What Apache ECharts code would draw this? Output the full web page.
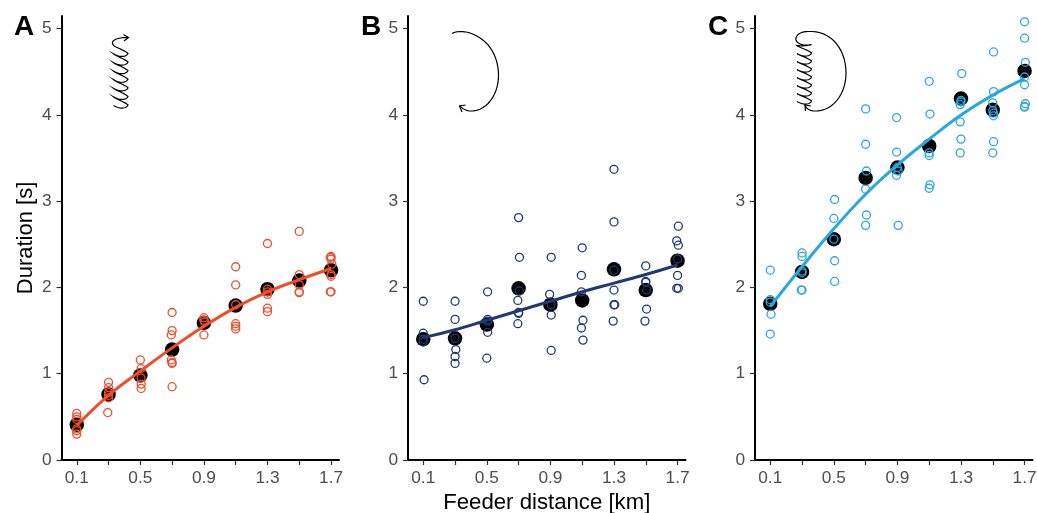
<!DOCTYPE html>
<html><head><meta charset="utf-8">
<style>html,body{margin:0;padding:0;background:#fff}#c{width:1037px;height:513px}</style>
<script src="https://cdn.jsdelivr.net/npm/echarts@6/dist/echarts.min.js"></script>
</head><body><div id="c"></div>
<script>
const xTicks = [0.1,0.3,0.5,0.7,0.9,1.1,1.3,1.5,1.7];
const xLabels = [0.1,0.5,0.9,1.3,1.7];
const yTicks = [0,1,2,3,4,5];
const letters = ['A','B','C'];
const colors = ['#F04E2A','#1F3A70','#2AA7E0'];

const meanA = [0.41,0.76,0.98,1.28,1.59,1.79,1.98,2.08,2.20];
const meanB = [1.40,1.41,1.57,1.99,1.80,1.85,2.21,1.97,2.31];
const meanC = [1.81,2.18,2.56,3.27,3.39,3.64,4.19,4.06,4.51];

const fitA = [0.40,0.75,1.03,1.30,1.55,1.77,1.95,2.09,2.22];
const fitB = [1.42,1.51,1.62,1.73,1.84,1.95,2.05,2.15,2.26];
const fitC = [1.78,2.24,2.68,3.08,3.42,3.72,4.00,4.23,4.42];

const rawA = [
 [0.1,0.54],[0.1,0.50],[0.1,0.47],[0.1,0.36],[0.1,0.34],[0.1,0.30],
 [0.3,0.90],[0.3,0.84],[0.3,0.78],[0.3,0.75],[0.3,0.72],[0.295,0.55],
 [0.5,1.16],[0.505,1.06],[0.505,0.95],[0.505,0.88],[0.505,0.83],
 [0.7,1.71],[0.7,1.50],[0.695,1.45],[0.695,1.16],[0.7,1.13],[0.7,1.12],[0.7,0.85],
 [0.9,1.65],[0.9,1.62],[0.905,1.60],[0.9,1.45],
 [1.1,2.24],[1.1,2.03],[1.1,1.80],[1.1,1.58],[1.1,1.55],[1.1,1.52],
 [1.3,2.51],[1.3,1.98],[1.3,1.95],[1.3,1.92],[1.3,1.76],[1.3,1.72],
 [1.5,2.65],[1.5,2.15],[1.5,2.03],[1.5,1.95],[1.5,1.94],
 [1.7,2.36],[1.695,2.35],[1.7,2.33],[1.705,2.27],[1.7,2.15],[1.7,2.13],[1.7,1.95],[1.695,1.95]
];
const rawB = [
 [0.1,1.84],[0.1,1.47],[0.1,1.40],[0.1,1.37],[0.105,0.93],
 [0.3,1.84],[0.3,1.63],[0.3,1.41],[0.305,1.28],[0.3,1.20],[0.3,1.12],
 [0.505,1.95],[0.505,1.63],[0.505,1.61],[0.505,1.48],[0.5,1.18],
 [0.7,2.81],[0.705,2.35],[0.705,1.96],[0.695,1.85],[0.7,1.71],[0.7,1.70],[0.695,1.58],
 [0.905,2.35],[0.895,1.92],[0.905,1.80],[0.905,1.68],[0.905,1.27],
 [1.1,2.46],[1.095,2.14],[1.095,1.95],[1.105,1.62],[1.095,1.53],[1.105,1.39],
 [1.3,3.37],[1.3,2.76],[1.3,2.20],[1.3,1.97],[1.3,1.80],[1.305,1.80],[1.295,1.61],
 [1.5,2.25],[1.5,2.07],[1.5,2.06],[1.505,1.97],[1.505,1.75],[1.495,1.61],
 [1.705,2.71],[1.695,2.54],[1.705,2.49],[1.7,2.33],[1.7,2.14],[1.695,1.99],[1.705,1.99]
];
const rawC = [
 [0.1,2.20],[0.1,1.86],[0.1,1.83],[0.105,1.69],[0.1,1.46],
 [0.3,2.40],[0.3,2.36],[0.3,2.19],[0.3,2.17],[0.295,1.97],[0.3,1.97],
 [0.505,3.02],[0.5,2.80],[0.5,2.56],[0.505,2.31],[0.505,2.07],
 [0.7,4.07],[0.7,3.66],[0.705,3.35],[0.7,3.14],[0.705,2.84],[0.7,2.72],
 [0.895,3.97],[0.895,3.57],[0.9,3.39],[0.905,3.35],[0.895,3.30],[0.905,2.72],
 [1.1,4.39],[1.105,4.01],[1.1,3.56],[1.1,3.53],[1.105,3.19],[1.1,3.15],
 [1.305,4.48],[1.3,4.17],[1.3,4.15],[1.295,4.12],[1.295,3.92],[1.3,3.72],[1.295,3.56],
 [1.505,4.73],[1.505,4.27],[1.5,4.14],[1.5,4.05],[1.505,4.02],[1.505,3.99],[1.505,3.69],[1.5,3.56],
 [1.7,5.08],[1.7,4.89],[1.705,4.61],[1.7,4.44],[1.7,4.35],[1.705,4.13],[1.7,4.10],[1.7,4.09]
];

const means = [meanA,meanB,meanC], fits=[fitA,fitB,fitC], raws=[rawA,rawB,rawC];
const lefts = [61.5,408,755];
const font = '"Liberation Sans",Arial,sans-serif';

// decorative gait icons (page pixels)
function coil(x0,x1,yStart,step,n){
  let segs=[]; let p=[x0,yStart]; let y=yStart;
  for(let i=0;i<n;i++){
    segs.push([p,[x0+6,y+3.5],[x1-2,y+3.5],[x1,y-0.5]]);
    const ny=y-step;
    segs.push([[x1,y-0.5],[x1-4,y-4],[x0+2,ny+2],[x0,ny]]);
    p=[x0,ny]; y=ny;
  }
  return {segs,end:p};
}
function flatten(segs){
  const pts=[segs[0][0]];
  segs.forEach(s=>{for(let k=1;k<=14;k++){const t=k/14,u=1-t;
    pts.push([u*u*u*s[0][0]+3*u*u*t*s[1][0]+3*u*t*t*s[2][0]+t*t*t*s[3][0],
              u*u*u*s[0][1]+3*u*u*t*s[1][1]+3*u*t*t*s[2][1]+t*t*t*s[3][1]]);}});
  return pts;
}
const cA=coil(113.5,128,105.5,8.6,7);
const iconA=[flatten([...cA.segs,[cA.end,[110,cA.end[1]-4],[115,37.5],[128,37.5]]]),[[123.5,34.5],[128.5,37.5],[124,41]]];
const iconB=[flatten([
  [[452,33.5],[456,31],[464,31],[470,33]],
  [[470,33],[488,39],[498,55],[498.5,74]],
  [[498.5,74],[499,95],[486,112],[470,111]],
  [[470,111],[465,110.5],[462,108],[459.5,106]]]),[[465.5,105],[459.5,106],[462,112]]];
const cC=coil(797,811.5,101.5,8,7);
const iconC=[flatten([...cC.segs,
  [cC.end,[802,46],[806,46],[811.5,44.5]],
  [[811.5,44.5],[800,47],[793,41],[797,36]],
  [[797,36],[800,31],[808,31.5],[812,31.5]],
  [[812,31.5],[832,32],[846,50],[846,73]],
  [[846,73],[846,95],[832,112],[814,111]],
  [[814,111],[809,110.5],[806,108],[805,105]]]),[[811,106],[805,105],[805.5,111]]];

const grid=[],xAxis=[],yAxis=[],series=[],graphic=[];
lefts.forEach((l,i)=>{
  grid.push({left:l,top:16,width:277.5,height:444,outerBoundsMode:'none'});
  xAxis.push({type:'value',gridIndex:i,min:0.004,max:1.75,
    name:i===1?'Feeder distance [km]':'',nameLocation:'middle',nameGap:31,
    nameTextStyle:{fontFamily:font,fontSize:22.2,color:'#000'},
    axisLine:{show:true,onZero:false,lineStyle:{color:'#000',width:2}},
    axisTick:{show:true,length:5,lineStyle:{color:'#333',width:1.2},customValues:xTicks},
    axisLabel:{customValues:xLabels,color:'#4d4d4d',fontFamily:font,fontSize:17.3,margin:10,formatter:v=>v.toFixed(1)},
    splitLine:{show:false}});
  yAxis.push({type:'value',gridIndex:i,min:0,max:5.147,
    name:i===0?'Duration [s]':'',nameLocation:'middle',nameGap:25,nameRotate:90,
    nameTextStyle:{fontFamily:font,fontSize:22,color:'#000'},
    axisLine:{show:true,onZero:false,lineStyle:{color:'#000',width:2}},
    axisTick:{show:true,length:5,lineStyle:{color:'#333',width:1.2},customValues:yTicks},
    axisLabel:{customValues:yTicks,color:'#4d4d4d',fontFamily:font,fontSize:17.3,margin:10,padding:[5,0,0,0]},
    splitLine:{show:false}});
  series.push({type:'scatter',xAxisIndex:i,yAxisIndex:i,z:2,symbolSize:14.5,clip:false,
    itemStyle:{color:'#000',opacity:1},data:xTicks.map((x,k)=>[x,means[i][k]])});
  series.push({type:'scatter',xAxisIndex:i,yAxisIndex:i,z:3,symbolSize:8,clip:false,
    itemStyle:{color:'rgba(0,0,0,0)',borderColor:colors[i],borderWidth:1.3,opacity:1},data:raws[i]});
  series.push({type:'line',xAxisIndex:i,yAxisIndex:i,z:4,smooth:0.4,showSymbol:false,symbol:'none',
    lineStyle:{color:colors[i],width:3},data:xTicks.map((x,k)=>[x,fits[i][k]])});
  graphic.push({type:'text',x:[14,361,708][i],y:13,z:10,
    style:{text:letters[i],font:'bold 28px '+font,fill:'#000'}});
});
[iconA,iconB,iconC].forEach(ic=>ic.forEach(pts=>graphic.push({type:'polyline',z:10,
  shape:{points:pts},style:{fill:null,stroke:'#000',lineWidth:1.2}})));

const chart=echarts.init(document.getElementById('c'),null,{renderer:'canvas'});
chart.setOption({animation:false,backgroundColor:'#fff',grid,xAxis,yAxis,series,graphic,tooltip:{show:false},legend:{show:false}});
</script></body></html>
